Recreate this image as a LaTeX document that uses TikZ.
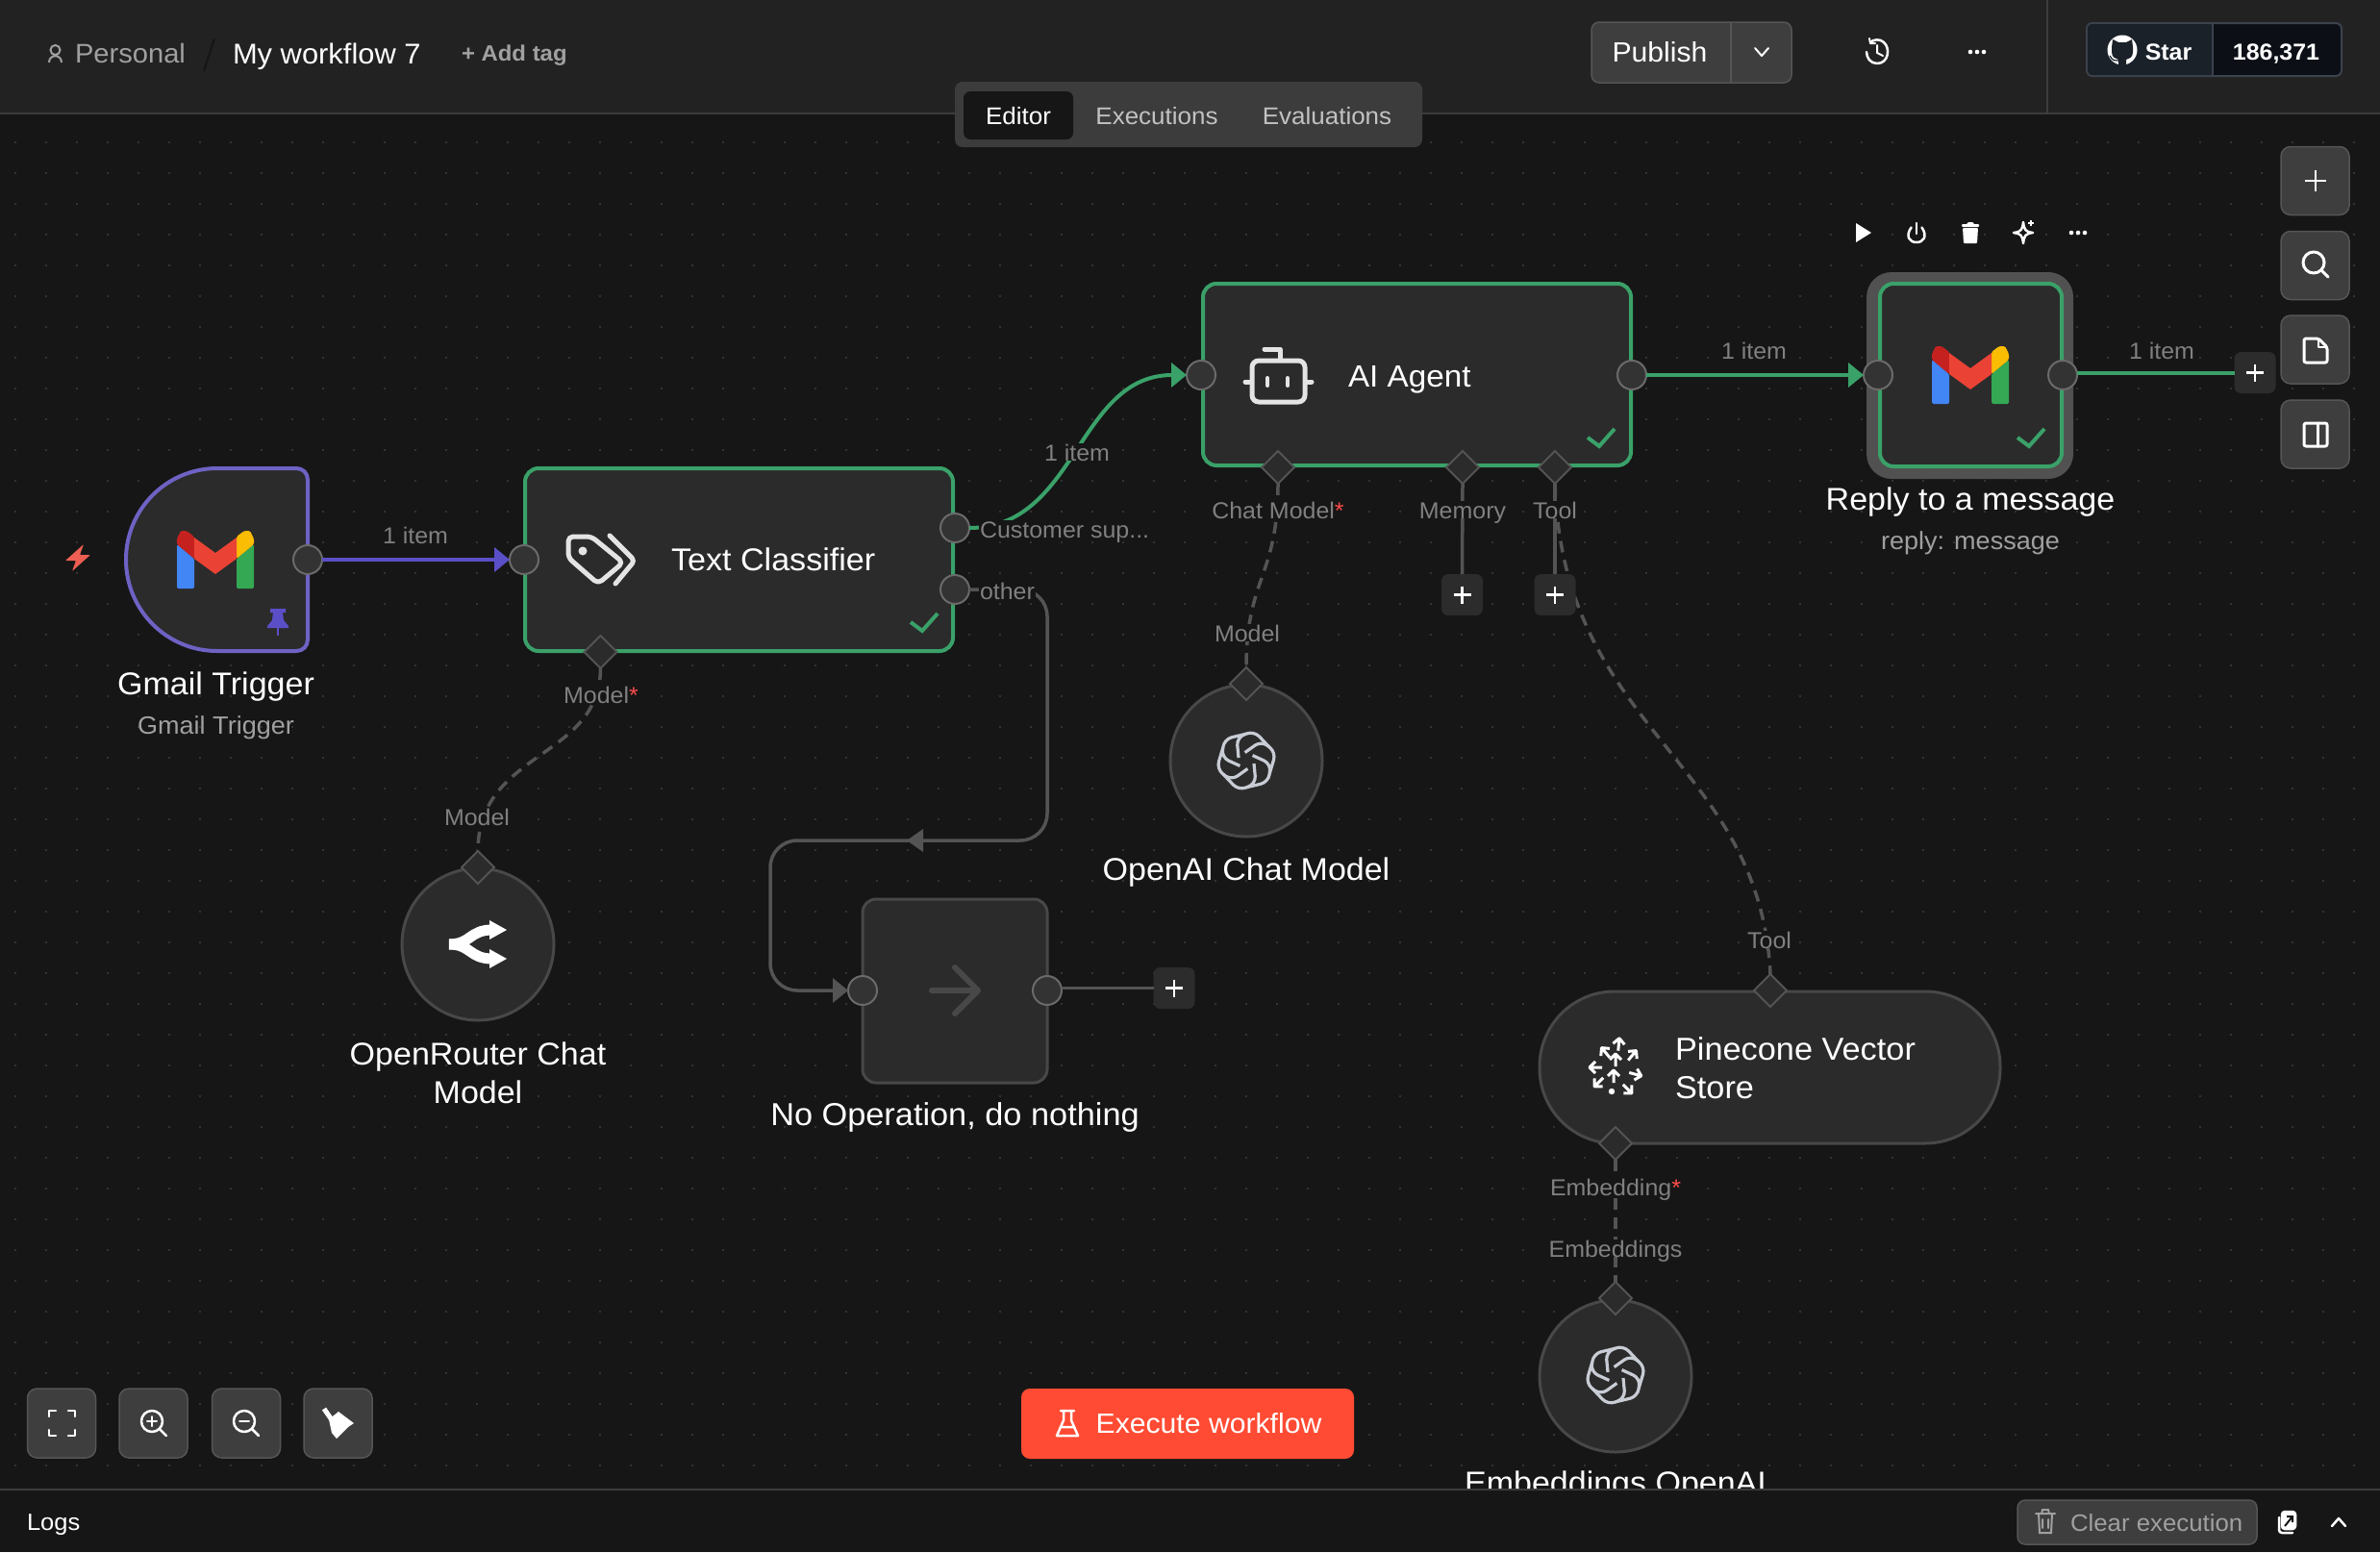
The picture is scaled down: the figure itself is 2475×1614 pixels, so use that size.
\documentclass[tikz,border=0pt]{standalone}
\usepackage{fontspec}
\setmainfont[FakeStretch=1.04]{Liberation Sans}
\usetikzlibrary{arrows.meta,shapes.geometric,calc}
\definecolor{headbg}{HTML}{222222}
\definecolor{canvasbg}{HTML}{161616}
\definecolor{rulec}{HTML}{3C3C3C}
\definecolor{dotc}{HTML}{3E3E3E}
\definecolor{nodefill}{HTML}{2B2B2B}
\definecolor{nodeline}{HTML}{484848}
\definecolor{portfill}{HTML}{333333}
\definecolor{portline}{HTML}{6A6A6A}
\definecolor{greenc}{HTML}{3AA169}
\definecolor{purplec}{HTML}{6E62C4}
\definecolor{purpled}{HTML}{5B4FC8}
\definecolor{edgegrey}{HTML}{545454}
\definecolor{labelc}{HTML}{808080}
\definecolor{subc}{HTML}{A0A0A0}
\definecolor{btnfill}{HTML}{3E3E3E}
\definecolor{btnline}{HTML}{555555}
\definecolor{plusfill}{HTML}{2C2C2C}
\definecolor{iconw}{HTML}{E4E4E4}
\definecolor{oailogo}{HTML}{C8CCD4}
\definecolor{starleft}{HTML}{1B2129}
\definecolor{starright}{HTML}{0C1016}
\definecolor{starline}{HTML}{3B424C}
\definecolor{execc}{HTML}{FF4B33}
\definecolor{gblue}{HTML}{4285F4}
\definecolor{ggreen}{HTML}{34A853}
\definecolor{gred}{HTML}{EA4335}
\definecolor{gdark}{HTML}{C5221F}
\definecolor{gyellow}{HTML}{FBBC04}
\newcommand{\fsz}[1]{\fontsize{#1}{#1}\selectfont}
\newcommand{\gmaillogo}[2]{%
 \begin{scope}[shift={(#1,#2)},rounded corners=1.5pt]
  \fill[gblue] (-40,-16)--(-22,-1)--(-22,30)--(-40,30)--cycle;
  \fill[ggreen] (22,-1)--(40,-16)--(40,30)--(22,30)--cycle;
  \fill[gdark] (-40,-22)--(-36,-30)--(-30,-30)--(-22,-24)--(-22,-1)--(-40,-16)--cycle;
  \fill[gyellow] (40,-22)--(36,-30)--(30,-30)--(22,-24)--(22,-1)--(40,-16)--cycle;
  \fill[gred,sharp corners] (-22,-23)--(0,-7)--(22,-23)--(22,-1)--(0,15)--(-22,-1)--cycle;
 \end{scope}}
\newcommand{\openailogo}[2]{%
 \begin{scope}[shift={(#1,#2)}]
  \foreach \a in {0,60,...,300}{\draw[rotate=\a,draw=oailogo,line width=3.2pt,rounded corners=8pt] (-8,-3)--(-10,-24)--(8,-31)--(24,-14);}
 \end{scope}}
\newcommand{\threedots}[2]{%
 \fill[white] (#1-7,#2) circle (2.3) (#1,#2) circle (2.3) (#1+7,#2) circle (2.3);}
\newcommand{\plusmark}[3]{%
 \draw[white,line width=2.5pt] (#1-#3,#2)--(#1+#3,#2) (#1,#2-#3)--(#1,#2+#3);}
\newcommand{\checkmk}[2]{%
 \draw[greenc,line width=4pt] (#1-14,#2)--(#1-2,#2+9)--(#1+14,#2-9);}
\tikzset{
 every node/.style={inner sep=0pt,outer sep=0pt,font=\fsz{25},text depth=0pt,execute at begin node={\vrule width 0pt height .75em depth 0pt\relax}},
 portc/.style={circle,minimum size=30pt,fill=portfill,draw=portline,line width=2pt},
 diam/.style={diamond,minimum width=34pt,minimum height=34pt,aspect=1,fill=nodefill,draw=edgegrey,line width=2pt},
 wfbox/.style={rectangle,rounded corners=14pt,fill=nodefill,draw=greenc,line width=4pt},
 circbox/.style={circle,minimum size=158pt,fill=nodefill,draw=nodeline,line width=3pt},
 sqbtn/.style={rectangle,rounded corners=10pt,fill=btnfill,draw=btnline,line width=1.5pt,minimum width=71pt,minimum height=71pt},
 plusbox/.style={rectangle,rounded corners=7pt,fill=plusfill,minimum width=43pt,minimum height=43pt},
 wfedge/.style={line width=3.5pt,draw=edgegrey},
 gedge/.style={line width=4pt,draw=greenc},
 pedge/.style={line width=4pt,draw=purpled},
 dedge/.style={line width=3.5pt,draw=edgegrey,dash pattern=on 12pt off 8pt},
 tip/.style={-{Triangle[length=16pt,width=25pt]}},
 lbl/.style={text=labelc,fill=canvasbg,font=\fsz{24},inner xsep=1pt},
 title/.style={text=white,font=\fsz{32.7}},
 subtitle/.style={text=subc,font=\fsz{26}},
 wicon/.style={draw=iconw,line width=5pt,line cap=round,line join=round},
 thinw/.style={draw=white,line width=2.5pt,line cap=round,line join=round},
}
\begin{document}
\begin{tikzpicture}[x=1pt,y=-1pt]
\useasboundingbox (0,0) rectangle (2475,1614);
% canvas
\fill[canvasbg] (0,0) rectangle (2475,1614);
\fill[dotc] \foreach \x in {16,48,...,2464}{\foreach \y in {148,180,...,1524}{(\x,\y) circle (1.1)}};

% ---- Gmail Trigger
\draw[fill=nodefill,draw=purplec,line width=4pt] (226,487) -- (308,487) .. controls (315,487) and (320,492) .. (320,499) -- (320,665) .. controls (320,672) and (315,677) .. (308,677) -- (226,677) .. controls (173.5,677) and (131,634.5) .. (131,582) .. controls (131,529.5) and (173.5,487) .. (226,487) -- cycle;
\gmaillogo{224}{582}
\fill[purpled,line join=round] (281,633)--(297,633)--(297,637)--(294,637)--(295,645)--(300,651)--(300,653)--(278,653)--(278,651)--(283,645)--(284,637)--(281,637)--cycle;
\draw[purpled,line width=2.5pt] (289,653)--(289,661);
\fill[draw=none,fill=gred!85!white,rounded corners=1pt] (87,566)--(68,583)--(79,583)--(75,594)--(94,577)--(83,577)--cycle;
\node[portc] (gmailout) at (320,582) {};
\node[title] (gmailt) at (224.5,710) {Gmail Trigger};
\node[subtitle] (gmails) at (224.5,754) {Gmail Trigger};

% ---- Text Classifier
\node[wfbox,minimum width=445pt,minimum height=190pt] (tc) at (768.5,582) {};
\node[portc] (tcin) at (545,582) {};
\node[portc] (tcout1) at (993,549) {};
\node[portc] (tcout2) at (993,613) {};
\node[diam] (tcmodel) at (624.5,678) {};
\begin{scope}[wicon,rounded corners=5pt]
 \draw (591,558)--(615,558)--(648,585)--(622,607)--(591,580)--cycle;
 \draw[rounded corners=4pt] (634,557)--(660,583)--(640,607);
\end{scope}
\fill[iconw] (606,573) circle (4.5);
\node[text=white,font=\fsz{32.8},anchor=west] (tct) at (698,581) {Text Classifier};
\checkmk{961}{647}

% ---- AI Agent
\node[wfbox,minimum width=445pt,minimum height=189pt] (ai) at (1473.5,389.5) {};
\node[portc] (aiin) at (1249,390) {};
\node[portc] (aiout) at (1697,390) {};
\node[diam] (aichat) at (1329,486) {};
\node[diam] (aimem) at (1521,486) {};
\node[diam] (aitool) at (1617,486) {};
\begin{scope}[wicon]
 \draw[rounded corners=7pt] (1302,375) rectangle (1357,418);
 \draw (1331,373)--(1331,363)--(1315,363);
 \draw (1295,397)--(1299,397) (1360,397)--(1364,397);
 \draw[line width=4pt] (1318,393)--(1318,401) (1339,393)--(1339,401);
\end{scope}
\node[text=white,font=\fsz{32},anchor=west] (ait) at (1402,390) {AI Agent};
\checkmk{1665}{455}

% ---- Reply
\fill[btnline!95!black,rounded corners=26pt] (1941,283) rectangle (2156,498);
\node[wfbox,minimum width=189pt,minimum height=190pt] (reply) at (2049.5,390) {};
\node[portc] (replyin) at (1953,390) {};
\node[portc] (replyout) at (2145,390) {};
\gmaillogo{2049}{390}
\checkmk{2112}{455}
\node[title] (replyt) at (2049,518) {Reply to a message};
\node[subtitle] (replys) at (2049,562) {reply: message};

% ---- OpenAI Chat Model
\node[circbox] (chatm) at (1296,791) {};
\node[diam] (chatmt) at (1296,711) {};
\openailogo{1296}{791}
\node[title] (chatmn) at (1296,903) {OpenAI Chat Model};

% ---- OpenRouter
\node[circbox] (orm) at (497,982) {};
\node[diam] (ormt) at (497,902) {};
\draw[white,line width=11pt] (467,982) .. controls (490,982) and (488,967) .. (512,967);
\draw[white,line width=11pt] (467,982) .. controls (490,982) and (488,997) .. (512,997);
\fill[white] (509,957)--(527,967)--(509,977)--cycle (509,987)--(527,997)--(509,1007)--cycle;
\node[title] (ormn1) at (497,1095) {OpenRouter Chat};
\node[title] (ormn2) at (497,1135) {Model};

% ---- No Op
\node[rectangle,rounded corners=14pt,fill=nodefill,draw=nodeline,line width=3pt,minimum width=192pt,minimum height=191pt] (noop) at (993,1030.5) {};
\node[portc] (noopin) at (897,1030) {};
\node[portc] (noopout) at (1089,1030) {};
\draw[nodeline,line width=6pt,line cap=round,line join=round] (969,1030)--(1017,1030) (993,1006)--(1017,1030)--(993,1054);
\node[title,font=\fsz{33}] (noopt) at (993,1158) {No Operation, do nothing};

% ---- Pinecone
\node[rectangle,rounded corners=78pt,fill=nodefill,draw=nodeline,line width=3pt,minimum width=479pt,minimum height=158pt] (pine) at (1840.5,1110) {};
\node[diam] (pinetop) at (1841,1030) {};
\node[diam] (pinebot) at (1680,1189) {};
\foreach \px/\py/\ang in {3.3/-23.3/-85,-10/-15/-130,17/-12/-50,-20/0/180,0/-7/-90,20/7/15,-17/15/135,-2/10/-90,12/22/45}{
 \draw[white,line width=3pt,line join=round,shift={(1680+\px,1110+\py)},rotate=-\ang] (-6,0)--(6,0) (1,-6)--(7,0)--(1,6);
}
\fill[white] (1676,1135) circle (3.2);
\node[text=white,font=\fsz{33},anchor=west] (pinet1) at (1742,1090) {Pinecone Vector};
\node[text=white,font=\fsz{33},anchor=west] (pinet2) at (1742,1130) {Store};

% ---- Embeddings
\node[circbox] (emb) at (1680,1431) {};
\node[diam] (embt) at (1680,1350) {};
\openailogo{1680}{1430}
\node[title] (embn) at (1680,1541) {Embeddings OpenAI};

% ---- dashed edges
\draw[dedge] (tcmodel.south) .. controls (624,790) and (497,780) .. (ormt.north);
\draw[dedge] (aichat.south) .. controls (1329,600) and (1296,600) .. (chatmt.north);
\draw[dedge] (aitool.south) .. controls (1625,760) and (1830,790) .. (pinetop.north);
\draw[dedge] (pinebot.south) -- (embt.north);

% ---- solid edges and plus boxes
\node[plusbox] (plusmem) at (1520.5,618.5) {};
\node[plusbox] (plustool) at (1617,618.5) {};
\node[plusbox] (plusreply) at (2345,387.5) {};
\node[plusbox] (plusnoop) at (1221,1027.5) {};
\draw[wfedge] (aimem.south) -- (plusmem.north);
\draw[wfedge] (aitool.south) -- (plustool.north);
\draw[pedge,tip] (gmailout.east) -- (tcin.west);
\draw[gedge,tip] (aiout.east) -- (replyin.west);
\draw[gedge] (replyout.east |- plusreply.west) -- (plusreply.west);
\draw[wfedge] (noopout.east |- plusnoop.west) -- (plusnoop.west);
\draw[gedge,tip] (tcout1.east) .. controls (1120,549) and (1120,390) .. (aiin.west);
\draw[wfedge,rounded corners=28pt] (tcout2.east) -- (1089,613) -- (1089,874) -- (801,874) -- (801,1030) -- (870,1030);
\draw[wfedge,tip] (870,1030) -- (noopin.west);
\fill[edgegrey] (943,874)--(960,862)--(960,886)--cycle;
\plusmark{1520.5}{618.5}{9}
\plusmark{1617}{618.5}{9}
\plusmark{2345}{387.5}{9}
\plusmark{1221}{1027.5}{9}

% ---- edge labels
\node[lbl] (l1) at (432,556) {1 item};
\node[lbl] (l2) at (1120,470) {1 item};
\node[lbl] (l3) at (1824,364) {1 item};
\node[lbl] (l4) at (2248,364) {1 item};
\node[lbl,anchor=west] (l5) at (1018,550) {Customer sup...};
\node[lbl,anchor=west] (l6) at (1018,614) {other};
\node[lbl] (l7) at (625,722) {Model\textcolor{red!70!white}{*}};
\node[lbl] (l8) at (496,849) {Model};
\node[lbl] (l9) at (1329,530) {Chat Model\textcolor{red!70!white}{*}};
\node[lbl] (l10) at (1521,530) {Memory};
\node[lbl] (l11) at (1617,530) {Tool};
\node[lbl] (l12) at (1297,658) {Model};
\node[lbl] (l13) at (1840,977) {Tool};
\node[lbl] (l14) at (1680,1234) {Embedding\textcolor{red!70!white}{*}};
\node[lbl] (l15) at (1680,1298) {Embeddings};

% ---- node toolbar
\fill[white] (1930,232)--(1946,242)--(1930,252)--cycle;
\begin{scope}[thinw]
 \draw (1987.5,236.5) .. controls (1981,246) and (1986,252) .. (1993,252) .. controls (2000,252) and (2005,246) .. (1998.5,236.5);
 \draw (1993,232)--(1993,243);
\end{scope}
\fill[white,rounded corners=1pt] (2041,237)--(2057,237)--(2056,253)--(2042,253)--cycle (2040,233)--(2046,233)--(2046,231)--(2052,231)--(2052,233)--(2058,233)--(2058,236)--(2040,236)--cycle;
\draw[thinw] (2104,231) .. controls (2105,239) and (2106,241) .. (2114,242) .. controls (2106,243) and (2105,245) .. (2104,253) .. controls (2103,245) and (2102,243) .. (2094,242) .. controls (2102,241) and (2103,239) .. (2104,231) -- cycle;
\draw[white,line width=1.5pt] (2112,229)--(2112,235) (2109,232)--(2115,232);
\threedots{2161}{242}

% ---- right buttons
\node[sqbtn,minimum height=71pt] (b1) at (2407.5,188) {};
\node[sqbtn,minimum height=71pt] (b2) at (2407.5,276) {};
\node[sqbtn,minimum height=71pt] (b3) at (2407.5,363.5) {};
\node[sqbtn,minimum height=71pt] (b4) at (2407.5,451.5) {};
\plusmark{2408}{188}{11}
\draw[thinw,line width=3pt] (2406,273) circle (11) (2414,281)--(2421,288);
\draw[thinw,line width=3pt,rounded corners=2pt] (2396,352)--(2411,352)--(2420,361)--(2420,377)--(2396,377)--cycle;
\draw[thinw,line width=2pt] (2411,352)--(2411,361)--(2420,361);
\draw[thinw,line width=3pt,rounded corners=2pt] (2396,440) rectangle (2420,464);
\draw[thinw,line width=3pt] (2410,440)--(2410,464);

% ---- header
\fill[headbg] (0,0) rectangle (2475,118);
\draw[rulec,line width=2pt] (0,118)--(2475,118);
\draw[rulec,line width=2pt] (2129,0)--(2129,118);
\draw[draw=subc,line width=2pt] (57.5,52) circle (5) (51,65) .. controls (51,56) and (64,56) .. (64,65);
\node[anchor=west,text=subc,font=\fsz{28}] (personal) at (78,55) {Personal};
\draw[rulec!120,line width=2pt] (223,40)--(212,74);
\node[anchor=west,text=white,font=\fsz{29.7}] (wfname) at (242,55) {My workflow 7};
\node[anchor=west,text=subc,font=\bfseries\fsz{23}] (addtag) at (480,55) {+ Add tag};
\node[rectangle,rounded corners=8pt,fill=btnfill,draw=btnline,line width=1.5pt,minimum width=208pt,minimum height=63pt] (publish) at (1759,54.5) {};
\draw[btnline,line width=1.5pt] (1800,23)--(1800,86);
\node[text=white,font=\fsz{29}] (pubt) at (1726,54) {Publish};
\draw[thinw,line width=2pt] (1825,50)--(1832,58)--(1839,50);
\draw[thinw,line width=2.5pt] (1945,44) .. controls (1948,41) and (1955,40) .. (1959,44) .. controls (1966,50) and (1964,66) .. (1952,66) .. controls (1945,66) and (1941,60) .. (1941,54);
\draw[thinw,line width=2pt] (1944,40)--(1945,45)--(1950,45) (1952,47)--(1952,55)--(1958,58);
\threedots{2056}{54}
\node[rectangle,rounded corners=6pt,fill=starright,draw=starline,line width=2pt,minimum width=265pt,minimum height=55pt] (starbox) at (2302.5,51.5) {};
\fill[starleft] (2301,25) [rounded corners=6pt] -- (2171,25) -- (2171,78) [sharp corners] -- (2301,78) -- cycle;
\draw[starline,line width=1.5pt] (2301,24)--(2301,79);
\fill[white] (2207,52) circle (15.5);
\fill[starleft] (2197,41)--(2203,44)--(2211,44)--(2217,41)--(2218,49)--(2218,54) .. controls (2218,60) and (2214,61) .. (2211,62)--(2211,68)--(2203,68)--(2203,62) .. controls (2200,61) and (2196,60) .. (2196,54)--(2196,49)--cycle;
\draw[starleft,line width=1.2pt] (2194,58) .. controls (2197,64) and (2200,63) .. (2203,63);
\node[text=white,font=\bfseries\fsz{24}] (start) at (2255,53) {Star};
\node[text=white,font=\bfseries\fsz{24}] (starc) at (2367,53) {186,371};

% ---- tabs
\node[rectangle,rounded corners=8pt,fill=rulec,minimum width=486pt,minimum height=68pt] (tabs) at (1236,119) {};
\node[rectangle,rounded corners=7pt,fill=canvasbg,minimum width=114pt,minimum height=50pt] (tabed) at (1059,120) {};
\node[text=white,font=\fsz{25}] (tab1) at (1059,120) {Editor};
\node[text=iconw!85!black,font=\fsz{25}] (tab2) at (1203,120) {Executions};
\node[text=iconw!85!black,font=\fsz{25}] (tab3) at (1380,120) {Evaluations};

% ---- bottom controls
\node[sqbtn,minimum width=71pt,minimum height=72pt] (c1) at (64,1480) {};
\node[sqbtn,minimum width=71pt,minimum height=72pt] (c2) at (159.5,1480) {};
\node[sqbtn,minimum width=71pt,minimum height=72pt] (c3) at (256,1480) {};
\node[sqbtn,minimum width=71pt,minimum height=72pt] (c4) at (351.5,1480) {};
\draw[thinw,line width=2.5pt] (51,1473)--(51,1467)--(58,1467) (71,1467)--(78,1467)--(78,1473) (78,1487)--(78,1493)--(71,1493) (58,1493)--(51,1493)--(51,1487);
\draw[thinw] (158,1478) circle (11) (166,1486)--(173,1493);
\draw[thinw,line width=2pt] (153,1478)--(163,1478) (158,1473)--(158,1483);
\draw[thinw] (254,1478) circle (11) (262,1486)--(269,1493);
\draw[thinw,line width=2pt] (249,1478)--(259,1478);
\draw[white,line width=5pt] (337,1465)--(346,1478);
\fill[white] (342,1476)--(352,1468)--(368,1480)--(362,1484)--(350,1496)--(345,1490)--cycle;
\node[rectangle,rounded corners=9pt,fill=execc,minimum width=346pt,minimum height=73pt] (exec) at (1235,1480.5) {};
\draw[thinw,line width=2.5pt] (1103,1467)--(1117,1467) (1106,1467)--(1106,1477)--(1099,1493)--(1121,1493)--(1114,1477)--(1114,1467) (1103,1484)--(1117,1484);
\node[text=white,font=\fsz{29}] (exect) at (1257,1480) {Execute workflow};

% ---- footer
\fill[canvasbg] (0,1549) rectangle (2475,1614);
\draw[rulec,line width=2pt] (0,1549)--(2475,1549);
\node[anchor=west,text=white,font=\fsz{24.5}] (logs) at (28,1582) {Logs};
\node[rectangle,rounded corners=8pt,fill=btnfill,draw=btnline,line width=1.5pt,minimum width=249pt,minimum height=46pt] (clear) at (2222.5,1583) {};
\draw[draw=subc,line width=2pt,line cap=round] (2117,1574)--(2137,1574) (2123,1574)--(2124,1570)--(2130,1570)--(2131,1574) (2120,1574)--(2121,1594)--(2133,1594)--(2134,1574) (2124,1580)--(2124,1589) (2130,1580)--(2130,1589);
\node[anchor=west,text=subc,font=\fsz{24.8}] (cleart) at (2153,1583) {Clear execution};
\draw[thinw,rounded corners=3pt] (2370,1578)--(2370,1594)--(2384,1594);
\draw[thinw,fill=white,rounded corners=3pt] (2373,1572) rectangle (2387,1590);
\draw[canvasbg,line width=2pt] (2376,1587)--(2384,1577) (2378,1577)--(2384,1577)--(2384,1583);
\draw[thinw,line width=2.5pt] (2425,1587)--(2432,1579)--(2439,1587);
\end{tikzpicture}
\end{document}
